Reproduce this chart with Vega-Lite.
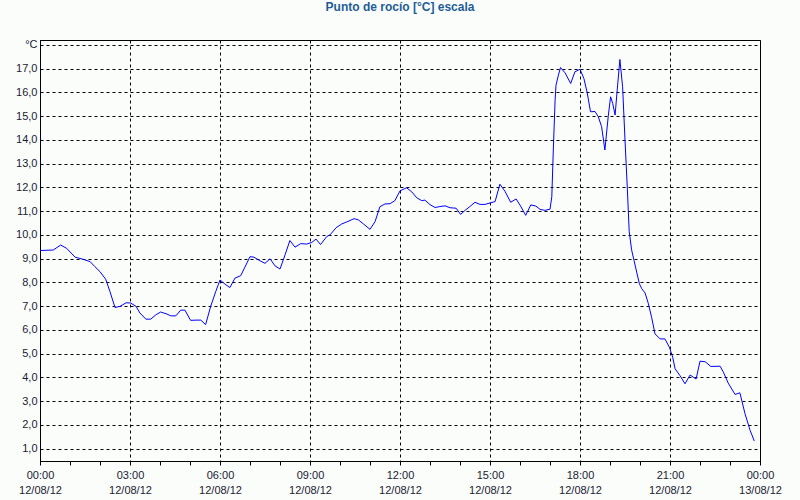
{
  "$schema": "https://vega.github.io/schema/vega-lite/v6.json",
  "padding": {"left": 40, "top": 40, "right": 40, "bottom": 39},
  "autosize": "none",
  "width": 720,
  "height": 421,
  "background": "#fbfdfb",
  "config": {
    "font": "Liberation Sans",
    "view": {"stroke": "#000000"},
    "locale": {"number": {"decimal": ",", "thousands": ".", "grouping": [3], "currency": ["", " €"]}}
  },
  "title": {"text": "Punto de rocío [°C] escala", "color": "#1e5e96", "font": "Liberation Sans", "fontWeight": "bold", "fontSize": 12, "offset": 20, "baseline": "middle"},
  "data": {"values": [
    {"h": 0, "v": 9.34}, {"h": 0.44, "v": 9.36}, {"h": 0.69, "v": 9.57}, {"h": 0.89, "v": 9.43},
    {"h": 1.17, "v": 9.06}, {"h": 1.44, "v": 8.97}, {"h": 1.67, "v": 8.87}, {"h": 1.83, "v": 8.66},
    {"h": 2.0, "v": 8.45}, {"h": 2.19, "v": 8.13}, {"h": 2.33, "v": 7.62}, {"h": 2.5, "v": 6.94},
    {"h": 2.67, "v": 6.99}, {"h": 2.87, "v": 7.14}, {"h": 3.02, "v": 7.13}, {"h": 3.2, "v": 6.99},
    {"h": 3.33, "v": 6.71}, {"h": 3.53, "v": 6.45}, {"h": 3.69, "v": 6.45}, {"h": 3.87, "v": 6.64},
    {"h": 4.02, "v": 6.75}, {"h": 4.2, "v": 6.68}, {"h": 4.36, "v": 6.59}, {"h": 4.53, "v": 6.59},
    {"h": 4.69, "v": 6.83}, {"h": 4.83, "v": 6.83}, {"h": 5.02, "v": 6.40}, {"h": 5.2, "v": 6.41},
    {"h": 5.36, "v": 6.41}, {"h": 5.52, "v": 6.22}, {"h": 5.69, "v": 6.99}, {"h": 5.86, "v": 7.62},
    {"h": 6.0, "v": 8.10}, {"h": 6.17, "v": 7.92}, {"h": 6.33, "v": 7.78}, {"h": 6.5, "v": 8.18},
    {"h": 6.69, "v": 8.28}, {"h": 6.83, "v": 8.64}, {"h": 7.0, "v": 9.08}, {"h": 7.13, "v": 9.06},
    {"h": 7.33, "v": 8.91}, {"h": 7.5, "v": 8.80}, {"h": 7.67, "v": 8.99}, {"h": 7.83, "v": 8.70},
    {"h": 8.0, "v": 8.56}, {"h": 8.17, "v": 9.16}, {"h": 8.33, "v": 9.76}, {"h": 8.5, "v": 9.48},
    {"h": 8.69, "v": 9.63}, {"h": 8.89, "v": 9.61}, {"h": 9.06, "v": 9.68}, {"h": 9.2, "v": 9.82},
    {"h": 9.35, "v": 9.59}, {"h": 9.56, "v": 9.93}, {"h": 9.67, "v": 10.00}, {"h": 9.87, "v": 10.30},
    {"h": 10.06, "v": 10.46}, {"h": 10.22, "v": 10.54}, {"h": 10.47, "v": 10.68}, {"h": 10.61, "v": 10.63},
    {"h": 10.78, "v": 10.46}, {"h": 11.0, "v": 10.23}, {"h": 11.17, "v": 10.56}, {"h": 11.33, "v": 11.18},
    {"h": 11.5, "v": 11.30}, {"h": 11.67, "v": 11.31}, {"h": 11.83, "v": 11.44}, {"h": 12.0, "v": 11.85},
    {"h": 12.22, "v": 11.98}, {"h": 12.39, "v": 11.81}, {"h": 12.56, "v": 11.56}, {"h": 12.72, "v": 11.44},
    {"h": 12.83, "v": 11.46}, {"h": 13.0, "v": 11.27}, {"h": 13.17, "v": 11.15}, {"h": 13.33, "v": 11.19},
    {"h": 13.5, "v": 11.22}, {"h": 13.67, "v": 11.14}, {"h": 13.87, "v": 11.12}, {"h": 14.02, "v": 10.86},
    {"h": 14.17, "v": 11.03}, {"h": 14.33, "v": 11.19}, {"h": 14.5, "v": 11.37}, {"h": 14.67, "v": 11.28},
    {"h": 14.83, "v": 11.28}, {"h": 15.0, "v": 11.34}, {"h": 15.17, "v": 11.40}, {"h": 15.33, "v": 12.13},
    {"h": 15.5, "v": 11.83}, {"h": 15.69, "v": 11.37}, {"h": 15.87, "v": 11.51}, {"h": 16.02, "v": 11.21},
    {"h": 16.19, "v": 10.82}, {"h": 16.36, "v": 11.26}, {"h": 16.53, "v": 11.21}, {"h": 16.67, "v": 11.07},
    {"h": 16.83, "v": 11.03}, {"h": 17.0, "v": 11.08}, {"h": 17.06, "v": 11.60}, {"h": 17.11, "v": 13.57},
    {"h": 17.17, "v": 15.67}, {"h": 17.2, "v": 16.30}, {"h": 17.28, "v": 16.72}, {"h": 17.35, "v": 17.04},
    {"h": 17.5, "v": 16.82}, {"h": 17.69, "v": 16.37}, {"h": 17.83, "v": 16.86}, {"h": 18.0, "v": 16.97},
    {"h": 18.13, "v": 16.58}, {"h": 18.24, "v": 15.98}, {"h": 18.35, "v": 15.18}, {"h": 18.5, "v": 15.19},
    {"h": 18.61, "v": 14.97}, {"h": 18.72, "v": 14.55}, {"h": 18.83, "v": 13.57}, {"h": 18.94, "v": 14.97},
    {"h": 19.02, "v": 15.81}, {"h": 19.09, "v": 15.53}, {"h": 19.17, "v": 15.04}, {"h": 19.24, "v": 16.09},
    {"h": 19.33, "v": 17.38}, {"h": 19.42, "v": 16.23}, {"h": 19.5, "v": 13.99}, {"h": 19.58, "v": 11.89},
    {"h": 19.64, "v": 10.14}, {"h": 19.72, "v": 9.37}, {"h": 19.8, "v": 8.92}, {"h": 19.89, "v": 8.43},
    {"h": 19.98, "v": 7.94}, {"h": 20.06, "v": 7.73}, {"h": 20.17, "v": 7.55}, {"h": 20.28, "v": 7.10},
    {"h": 20.39, "v": 6.51}, {"h": 20.5, "v": 5.83}, {"h": 20.67, "v": 5.62}, {"h": 20.83, "v": 5.62},
    {"h": 20.98, "v": 5.27}, {"h": 21.09, "v": 4.85}, {"h": 21.17, "v": 4.36}, {"h": 21.33, "v": 4.08},
    {"h": 21.5, "v": 3.73}, {"h": 21.67, "v": 4.10}, {"h": 21.87, "v": 3.93}, {"h": 22.0, "v": 4.68},
    {"h": 22.17, "v": 4.66}, {"h": 22.36, "v": 4.46}, {"h": 22.67, "v": 4.47}, {"h": 22.78, "v": 4.22},
    {"h": 22.94, "v": 3.76}, {"h": 23.17, "v": 3.28}, {"h": 23.33, "v": 3.35}, {"h": 23.5, "v": 2.47},
    {"h": 23.67, "v": 1.77}, {"h": 23.81, "v": 1.32}
  ]},
  "layer": [
    {
      "mark": {"type": "line", "color": "#0000ff", "strokeWidth": 1},
      "encoding": {
        "x": {
          "field": "h", "type": "quantitative",
          "scale": {"domain": [0, 24], "nice": false, "zero": false},
          "axis": {
            "orient": "bottom",
            "title": null,
            "values": [0, 3, 6, 9, 12, 15, 18, 21, 24],
            "labelExpr": "[(datum.value % 24 < 10 ? '0' : '') + (datum.value % 24) + ':00', datum.value == 24 ? '13/08/12' : '12/08/12']",
            "labelOverlap": false,
            "labelFlush": false,
            "labelFontSize": 11,
            "labelColor": "#1a1a33",
            "labelLineHeight": 15,
            "labelBaseline": "top",
            "labelPadding": 8,
            "ticks": false,
            "domainColor": "#000000",
            "grid": true,
            "gridColor": "#000000",
            "gridDash": [3, 3]
          }
        },
        "y": {
          "field": "v", "type": "quantitative",
          "scale": {"domain": [0.48, 18.2], "nice": false, "zero": false},
          "axis": {
            "orient": "left",
            "title": "°C",
            "titleAngle": 0,
            "titleAlign": "right",
            "titleBaseline": "middle",
            "titleX": -3,
            "titleY": 4.7,
            "titleFontWeight": "normal",
            "titleFontSize": 11,
            "titleColor": "#1a1a33",
            "values": [1, 2, 3, 4, 5, 6, 7, 8, 9, 10, 11, 12, 13, 14, 15, 16, 17],
            "format": ".1f",
            "labelFontSize": 11,
            "labelColor": "#1a1a33",
            "labelPadding": 3,
            "ticks": false,
            "domainColor": "#000000",
            "grid": true,
            "gridColor": "#000000",
            "gridDash": [3, 3]
          }
        }
      }
    },
    {
      "mark": {"type": "line", "strokeOpacity": 0},
      "encoding": {
        "x": {
          "field": "h", "type": "quantitative",
          "axis": {
            "orient": "bottom",
            "title": null,
            "values": [0, 1, 2, 3, 4, 5, 6, 7, 8, 9, 10, 11, 12, 13, 14, 15, 16, 17, 18, 19, 20, 21, 22, 23, 24],
            "labels": false,
            "ticks": true,
            "tickSize": 4,
            "tickColor": "#000000",
            "domain": false,
            "grid": false
          }
        },
        "y": {
          "field": "v", "type": "quantitative",
          "axis": {
            "orient": "left",
            "title": null,
            "values": [18],
            "labels": false,
            "ticks": false,
            "domain": false,
            "grid": true,
            "gridColor": "#000000",
            "gridDash": [3, 3]
          }
        }
      }
    }
  ],
  "resolve": {"axis": {"x": "independent", "y": "independent"}}
}
